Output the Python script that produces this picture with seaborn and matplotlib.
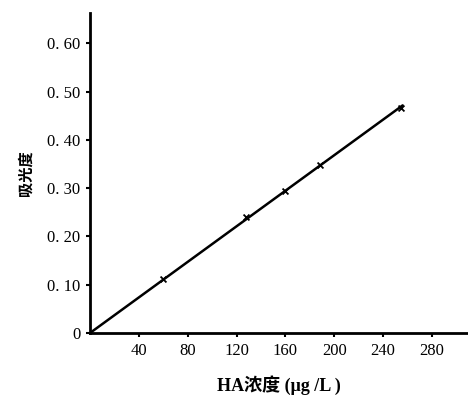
import numpy as np
import pandas as pd
import matplotlib
matplotlib.use("Agg")
import matplotlib.pyplot as plt
import seaborn as sns

# standard curve data
conc = [60, 128, 160, 188, 255]          # HA concentration (ug/L)
absorb = [0.112, 0.240, 0.295, 0.348, 0.466]
x_ticks = [40, 80, 120, 160, 200, 240, 280]
y_ticks = [0, 0.10, 0.20, 0.30, 0.40, 0.50, 0.60]
y_labels = ["0", "0. 10", "0. 20", "0. 30", "0. 40", "0. 50", "0. 60"]

df = pd.DataFrame({"conc": conc, "abs": absorb})

# least squares line through the origin
k = np.sum(df["conc"] * df["abs"]) / np.sum(df["conc"] ** 2)
fit = pd.DataFrame({"conc": [0, max(conc) + 1]})
fit["abs"] = k * fit["conc"]

sns.set_style("ticks")
plt.rcParams["font.family"] = ["Liberation Serif", "Noto Sans CJK SC"]
plt.rcParams["text.color"] = "black"
plt.rcParams["axes.labelcolor"] = "black"
plt.rcParams["xtick.color"] = "black"
plt.rcParams["ytick.color"] = "black"

fig = plt.figure(figsize=(4.68, 3.98), dpi=100)
ax = fig.add_axes([0.1923, 0.1633, 0.8077, 0.804])

sns.lineplot(data=fit, x="conc", y="abs", color="black", linewidth=1.8, ax=ax)
sns.scatterplot(data=df, x="conc", y="abs", marker="x", s=18, color="black",
                linewidth=1.3, ax=ax, zorder=3)

ax.set_xlim(0, 309.5)
ax.set_ylim(0, 0.663)
ax.set_xticks(x_ticks)
ax.set_xticklabels([str(t) for t in x_ticks], fontsize=12)
ax.set_yticks(y_ticks)
ax.set_yticklabels(y_labels, fontsize=12)
ax.tick_params(axis="both", length=3, width=1.5, color="black", pad=4)

for side in ["top", "right"]:
    ax.spines[side].set_visible(False)
for side in ["left", "bottom"]:
    ax.spines[side].set_linewidth(2)
    ax.spines[side].set_color("black")

ax.set_xlabel("HA浓度 (μg /L )", fontsize=13, fontweight="bold", labelpad=12)
ax.set_ylabel("吸光度", fontsize=11, fontweight="bold", labelpad=10,
              family=["Noto Sans CJK SC"])

fig.savefig("out.png", dpi=100)
